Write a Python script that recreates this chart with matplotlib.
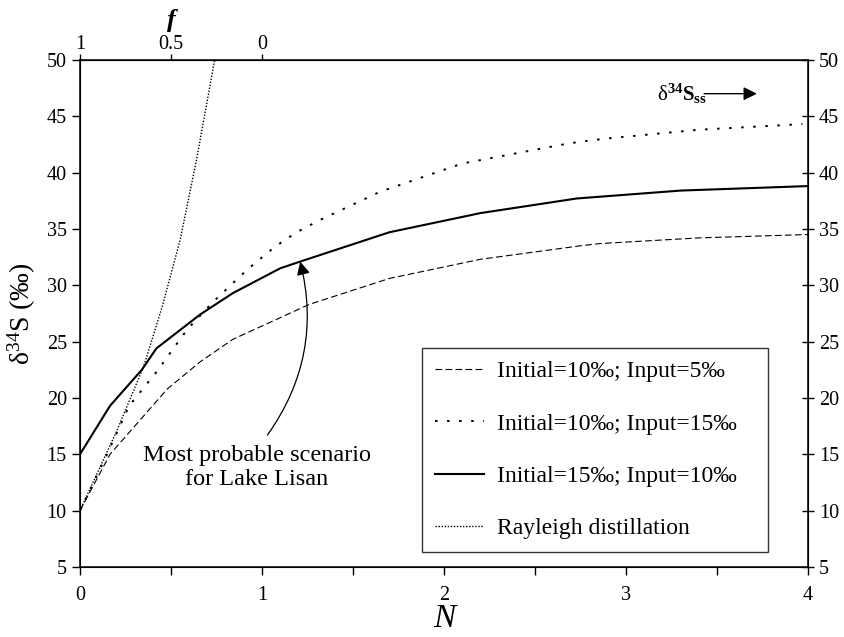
import matplotlib
matplotlib.use("Agg")
import matplotlib.pyplot as plt
from matplotlib.ticker import MultipleLocator

plt.rcParams["font.family"] = ["Liberation Serif", "DejaVu Serif"]
plt.rcParams["mathtext.fontset"] = "custom"
plt.rcParams["mathtext.rm"] = "Liberation Serif"
plt.rcParams["mathtext.it"] = "Liberation Serif:italic"
plt.rcParams["mathtext.bf"] = "Liberation Serif:bold"

# values (N, delta34S)
n_solid = [0, 0.165, 0.34, 0.42, 0.66, 0.84, 1.10, 1.21, 1.70, 2.2, 2.73, 3.3, 4.0]
d_solid = [15, 19.3, 22.5, 24.4, 27.4, 29.3, 31.5, 32.1, 34.7, 36.4, 37.7, 38.4, 38.8]

n_dot15 = [0, 0.14, 0.27, 0.42, 0.59, 0.73, 0.92, 1.07, 1.19, 1.32, 1.65, 2.1, 2.69, 2.88, 3.4, 3.97]
d_dot15 = [10, 14.7, 19.3, 22.3, 26.1, 28.5, 31.4, 33.4, 34.7, 35.8, 38.3, 40.8, 42.6, 43.0, 43.8, 44.3]

n_dash5 = [0, 0.165, 0.48, 0.66, 0.84, 1.26, 1.7, 2.2, 2.75, 2.86, 3.4, 4.0]
d_dash5 = [10, 15.0, 20.8, 23.2, 25.2, 28.3, 30.6, 32.3, 33.5, 33.7, 34.2, 34.5]

n_rayl = [0, 0.14, 0.20, 0.35, 0.45, 0.55, 0.64, 0.74]
d_rayl = [10, 14.9, 17.0, 22.8, 28.0, 34.0, 41.1, 50.0]

f_ticks = [1, 0.5, 0]

fig, ax = plt.subplots(figsize=(8.45, 6.37), dpi=100)
fig.subplots_adjust(left=0.0947, right=0.956, top=0.906, bottom=0.110)

ax.plot(n_dash5, d_dash5, color="black", lw=0.8, ls=(0, (6, 3)),
        label="Initial=10‰; Input=5‰")
ax.plot(n_dot15, d_dot15, color="black", lw=1.4, ls=(0, (1.3, 4.9)),
        label="Initial=10‰; Input=15‰")
ax.plot(n_solid, d_solid, color="black", lw=1.5, ls="-",
        label="Initial=15‰; Input=10‰")
ax.plot(n_rayl, d_rayl, color="black", lw=1.0, ls=(0, (1, 1.2)),
        label="Rayleigh distillation")

ax.set_xlim(0, 4)
ax.set_ylim(5, 50)
ax.xaxis.set_major_locator(MultipleLocator(1))
ax.xaxis.set_minor_locator(MultipleLocator(0.5))
ax.yaxis.set_major_locator(MultipleLocator(5))
ax.tick_params(which="both", direction="out", length=6, width=1, labelsize=14.5)
ax.tick_params(axis="x", pad=8)
for s in ax.spines.values():
    s.set_linewidth(1.1)

# right axis with same scale
rax = ax.twinx()
rax.set_ylim(5, 50)
rax.yaxis.set_major_locator(MultipleLocator(5))
rax.tick_params(direction="inout", length=8, width=1, labelsize=14.5, pad=4)

ax.set_xlabel("N", fontsize=24, fontstyle="italic", labelpad=-1)
ax.set_ylabel("δ$^{34}$S (‰)", fontsize=20, labelpad=6)

# top axis: f = 1 - N
top = ax.secondary_xaxis("top", functions=(lambda n: 1 - n, lambda f: 1 - f))
top.set_xticks(f_ticks)
top.set_xticklabels(["1", "0.5", "0"])
top.tick_params(direction="out", length=4, width=1, labelsize=14.5, pad=0)
ax.text(0.5, 1.077, "f", transform=ax.get_xaxis_transform(),
        fontsize=19, fontstyle="italic", fontweight="bold",
        ha="center", va="center")

leg = ax.legend(loc="upper left", bbox_to_anchor=(0.470, 0.0, 0.475, 0.432),
                mode="expand", fontsize=17,
                frameon=True, fancybox=False, edgecolor="black",
                handlelength=2.08, labelspacing=1.3, borderpad=0.55,
                handletextpad=0.55, borderaxespad=0)
leg.get_frame().set_linewidth(1.0)

ax.annotate("", xy=(1.21, 32.1), xytext=(1.03, 16.7),
            arrowprops=dict(arrowstyle="-|>", color="black", lw=0.9,
                            mutation_scale=20, shrinkA=0, shrinkB=0,
                            connectionstyle="arc3,rad=0.23"))
ax.text(0.97, 13.8, "Most probable scenario\nfor Lake Lisan", fontsize=17.5,
        ha="center", va="center", linespacing=1.2)

ax.text(3.17, 47.0, "δ$\\mathbf{^{34}S_{ss}}$", fontsize=15,
        ha="left", va="center")
ax.annotate("", xy=(3.72, 47.0), xytext=(3.43, 47.0),
            arrowprops=dict(arrowstyle="-|>", color="black", lw=1.0,
                            mutation_scale=20, shrinkA=0, shrinkB=0))

fig.savefig("out.png", dpi=100)
